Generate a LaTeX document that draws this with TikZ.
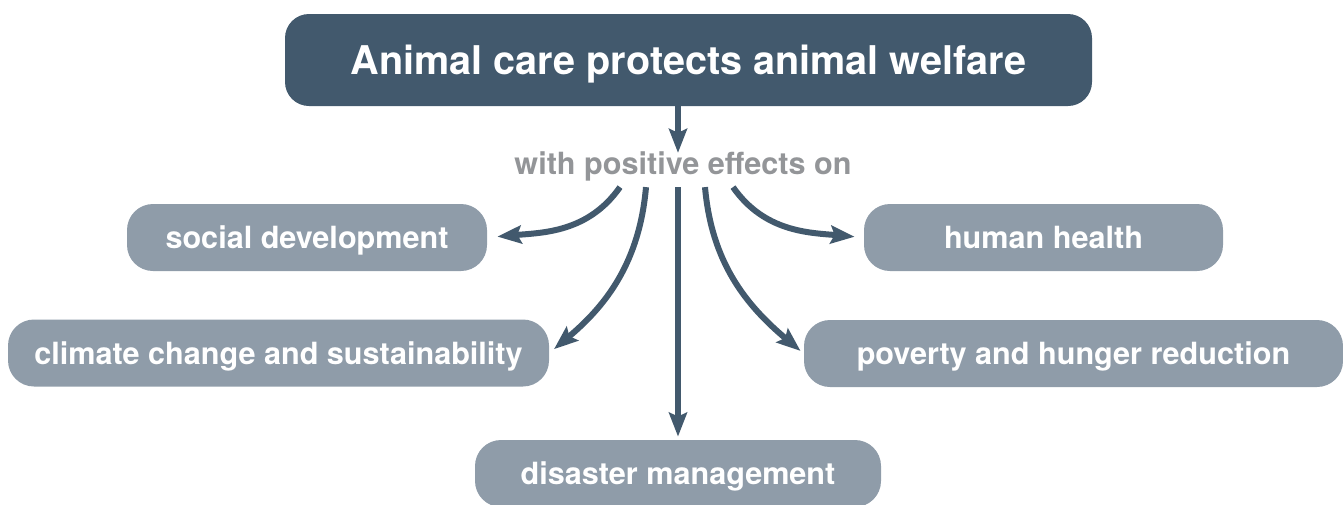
\documentclass[tikz,border=0pt]{standalone}
\usepackage{fontspec}
\setmainfont{TeX Gyre Heros}
\usetikzlibrary{arrows.meta}
\definecolor{slate}{HTML}{42596D}
\definecolor{steel}{HTML}{8F9CA9}
\definecolor{note}{HTML}{939598}

\begin{document}
\begin{tikzpicture}[x=0.5pt, y=-0.5pt,
    effect/.style={fill=steel, text=white, rounded corners=13pt, minimum height=33.5pt, text height=11pt, text depth=0pt, font=\fontsize{15.3}{18}\bfseries\selectfont},
    arr/.style={draw=slate, line width=3pt, -{Stealth[length=12pt, width=9pt, inset=2pt]}}]

\useasboundingbox (0,0) rectangle (1343,504);

% Adding the main statement
\node[fill=slate, text=white, rounded corners=12pt, minimum width=403.5pt, minimum height=46pt, text height=14.3pt, text depth=0pt, font=\fontsize{19.8}{24}\bfseries\selectfont] (main) at (688.5,60) {Animal care protects animal welfare};
\node[text=note, inner xsep=0pt, inner ysep=3pt, font=\fontsize{15.3}{18}\bfseries\selectfont] (effects) at (683,166) {with positive effects on};

% Adding all the effects
\node[effect, minimum width=180pt] (social) at (307,237.5) {social development};
\node[effect, minimum width=179.5pt] (health) at (1043.5,237.5) {human health};
\node[effect, minimum width=270.5pt] (climate) at (278.5,353) {climate change and sustainability};
\node[effect, minimum width=269.5pt] (poverty) at (1073.5,353.5) {poverty and hunger reduction};
\node[effect, minimum width=203pt] (disaster) at (678,473.5) {disaster management};

% Arrows
\draw[arr, shorten >=-4pt] (main.south -| disaster.north) -- (effects.north -| disaster.north);
\draw[arr, shorten >=1.5pt] (effects.south -| disaster.north) -- (disaster.north);
\draw[arr, shorten >=5pt] ([xshift=-31.5pt]effects.south) to[out=-125, in=5] (social.east);
\draw[arr, shorten >=3pt] ([xshift=-18.5pt]effects.south) to[out=-95, in=40] (climate.east);
\draw[arr, shorten >=2pt] ([xshift=11pt]effects.south) to[out=-85, in=140] (poverty.west);
\draw[arr, shorten >=4.5pt] ([xshift=25pt]effects.south) to[out=-55, in=175] (health.west);

\end{tikzpicture}
\end{document}
